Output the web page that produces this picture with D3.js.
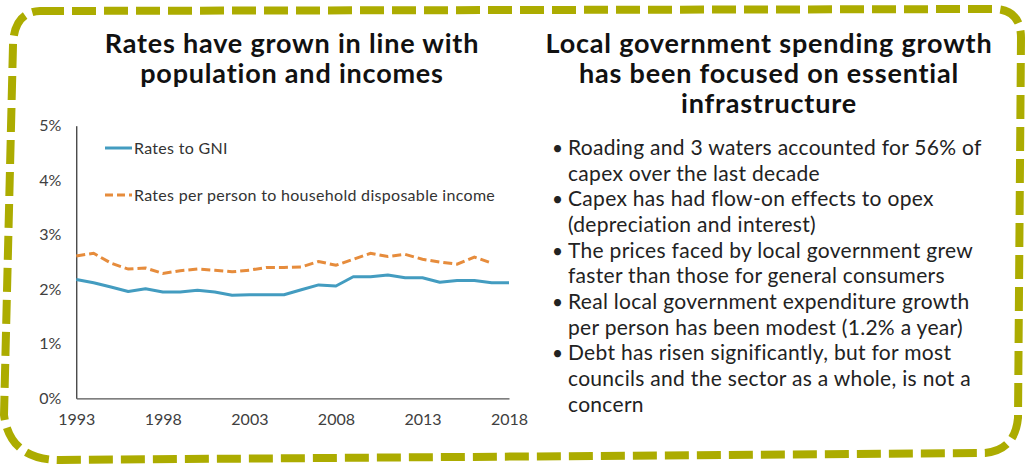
<!DOCTYPE html>
<html>
<head>
<meta charset="utf-8">
<script src="https://cdn.jsdelivr.net/npm/d3@7"></script>
<style>
  html, body { margin: 0; padding: 0; background: #ffffff; }
  svg { display: block; }
  text { font-family: Lato, "Noto Sans", sans-serif; }
</style>
</head>
<body>
<svg id="panel" width="1028" height="469"></svg>
<script>
// Annual series, 1993–2018 (share of income, %)
const years = [1993,1994,1995,1996,1997,1998,1999,2000,2001,2002,2003,2004,2005,
               2006,2007,2008,2009,2010,2011,2012,2013,2014,2015,2016,2017,2018];
const ratesToGNI = [2.18,2.12,2.04,1.96,2.01,1.95,1.95,1.98,1.95,1.89,1.90,1.90,1.90,
                    1.99,2.08,2.06,2.23,2.23,2.26,2.21,2.21,2.13,2.16,2.16,2.12,2.12];
const ratesPerPerson = [2.61,2.66,2.48,2.37,2.39,2.29,2.34,2.37,2.35,2.32,2.35,2.40,2.40,
                        2.41,2.51,2.44,2.55,2.66,2.60,2.64,2.55,2.50,2.46,2.59,2.48];
const seriesNames = ["Rates to GNI", "Rates per person to household disposable income"];
const xTicks = [1993, 1998, 2003, 2008, 2013, 2018];
const yTicks = [0, 1, 2, 3, 4, 5];

const leftTitle = ["Rates have grown in line with", "population and incomes"];
const rightTitle = ["Local government spending growth", "has been focused on essential", "infrastructure"];
const bullets = [
  ["Roading and 3 waters accounted for 56% of", "capex over the last decade"],
  ["Capex has had flow-on effects to opex", "(depreciation and interest)"],
  ["The prices faced by local government grew", "faster than those for general consumers"],
  ["Real local government expenditure growth", "per person has been modest (1.2% a year)"],
  ["Debt has risen significantly, but for most", "councils and the sector as a whole, is not a", "concern"]
];

const svg = d3.select("#panel");
const BLUE = "#439cc0", ORANGE = "#e68c3c", OLIVE = "#acac00";

// Hand-drawn style dashed frame
const frame = d3.path();
frame.moveTo(40, 11);
frame.lineTo(995, 9);
frame.quadraticCurveTo(1021, 10, 1021, 38);
frame.lineTo(1018, 418);
frame.quadraticCurveTo(1015, 450, 985, 453);
frame.lineTo(60, 460);
frame.quadraticCurveTo(10, 460, 4, 415);
frame.lineTo(13, 45);
frame.quadraticCurveTo(14, 12, 40, 11);
frame.closePath();
svg.append("path")
  .attr("d", frame.toString())
  .attr("fill", "none")
  .attr("stroke", OLIVE)
  .attr("stroke-width", 8)
  .attr("stroke-dasharray", "24,8");

// Titles
function title(lines, cx) {
  const t = svg.append("text")
    .attr("text-anchor", "middle")
    .attr("font-size", 27)
    .attr("font-weight", 700)
    .attr("letter-spacing", 0.8)
    .attr("fill", "#111");
  lines.forEach((l, i) => {
    t.append("tspan").attr("x", cx).attr("y", 53 + i * 30).text(l);
  });
}
title(leftTitle, 292);
title(rightTitle, 769);

// Chart
const x = d3.scaleLinear().domain([1993, 2018]).range([76.3, 509]);
const y = d3.scaleLinear().domain([0, 5]).range([398.3, 125.7]);

const yAxis = svg.append("g").attr("transform", `translate(${x(1993)},0)`)
  .call(d3.axisLeft(y).tickValues(yTicks).tickSize(0).tickPadding(15).tickFormat(d => d + "%"));
yAxis.select(".domain").attr("stroke", "#000").attr("stroke-width", 1);
yAxis.selectAll("text").attr("font-size", 16).attr("fill", "#404040")
  .attr("font-family", "Lato, sans-serif");

const xAxis = svg.append("g").attr("transform", `translate(0,${y(0)})`)
  .call(d3.axisBottom(x).tickValues(xTicks).tickSize(0).tickPadding(15).tickFormat(d3.format("d")));
xAxis.select(".domain").attr("stroke", "#555").attr("stroke-width", 1.2);
xAxis.selectAll("text").attr("font-size", 16).attr("fill", "#404040")
  .attr("font-family", "Lato, sans-serif");

const line = d3.line().x((d, i) => x(years[i])).y(d => y(d));

svg.append("path").datum(ratesToGNI)
  .attr("d", line).attr("fill", "none")
  .attr("stroke", BLUE).attr("stroke-width", 3).attr("stroke-linejoin", "round");

svg.append("path").datum(ratesPerPerson)
  .attr("d", line).attr("fill", "none")
  .attr("stroke", ORANGE).attr("stroke-width", 3).attr("stroke-dasharray", "9,4");

// Legend
const legend = [
  { name: seriesNames[0], color: BLUE, dash: null, y: 148 },
  { name: seriesNames[1], color: ORANGE, dash: "8,4", y: 195 }
];
legend.forEach(l => {
  svg.append("line")
    .attr("x1", 105).attr("x2", 132).attr("y1", l.y).attr("y2", l.y)
    .attr("stroke", l.color).attr("stroke-width", 3)
    .attr("stroke-dasharray", l.dash);
  svg.append("text")
    .attr("x", 134).attr("y", l.y + 5.5)
    .attr("font-size", 16).attr("letter-spacing", 0.3).attr("fill", "#333")
    .text(l.name);
});

// Bullet list
let row = 0;
bullets.forEach(b => {
  svg.append("text")
    .attr("x", 552).attr("y", 155 + row * 25.65)
    .attr("font-size", 19).attr("fill", "#222")
    .text("•");
  b.forEach(l => {
    svg.append("text")
      .attr("x", 568).attr("y", 155 + row * 25.65)
      .attr("font-size", 21).attr("letter-spacing", 0.3).attr("fill", "#222")
      .text(l);
    row++;
  });
});
</script>
</body>
</html>
